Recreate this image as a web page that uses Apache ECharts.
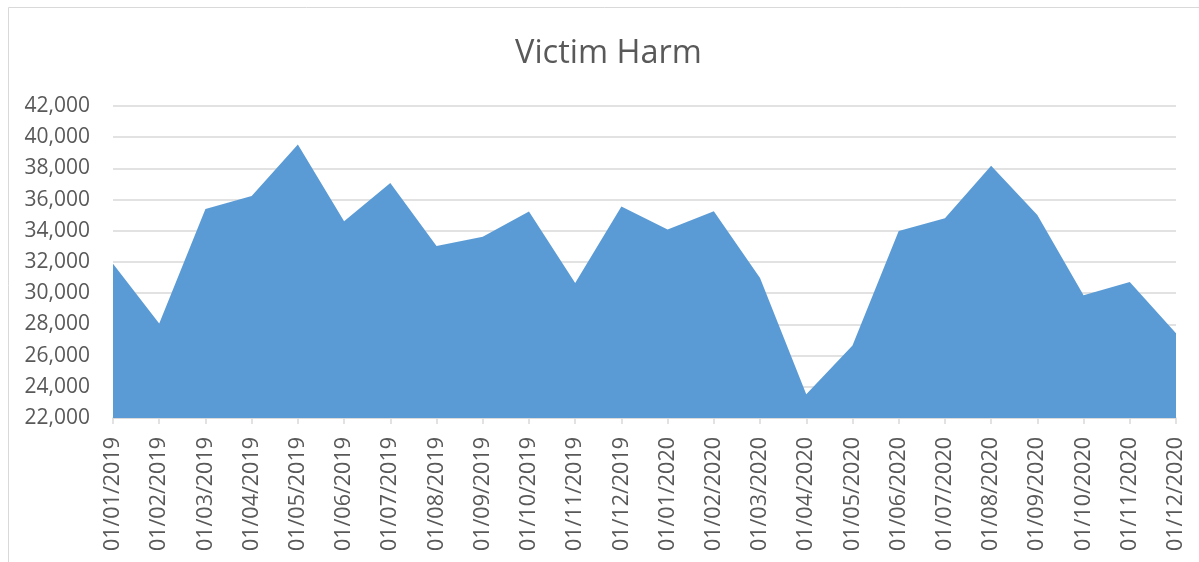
<!DOCTYPE html>
<html>
<head>
<meta charset="utf-8">
<script src="https://cdn.jsdelivr.net/npm/echarts@6/dist/echarts.min.js"></script>
<style>
  html, body { margin: 0; padding: 0; background: #fff; }
  #chart { width: 1199px; height: 562px; }
</style>
</head>
<body>
<div id="chart"></div>
<script>
// month labels as shown on the x axis
const months = [
  "01/01/2019", "01/02/2019", "01/03/2019", "01/04/2019", "01/05/2019", "01/06/2019",
  "01/07/2019", "01/08/2019", "01/09/2019", "01/10/2019", "01/11/2019", "01/12/2019",
  "01/01/2020", "01/02/2020", "01/03/2020", "01/04/2020", "01/05/2020", "01/06/2020",
  "01/07/2020", "01/08/2020", "01/09/2020", "01/10/2020", "01/11/2020", "01/12/2020"
];
// victim harm per month
const harm = [
  31890, 28060, 35400, 36230, 39530, 34620,
  37060, 33020, 33620, 35230, 30660, 35550,
  34090, 35260, 30980, 23520, 26640, 33980,
  34810, 38170, 35020, 29870, 30720, 27430
];
const yMin = 22000;
const yMax = 42000;
const yStep = 2000;

const chart = echarts.init(document.getElementById("chart"));
const textColor = "#595959";
const font = "'Open Sans', 'Liberation Sans', sans-serif";

const option = {
  animation: false,
  title: {
    text: "Victim Harm",
    left: 510,
    top: 32,
    textStyle: { color: textColor, fontSize: 32.5, fontWeight: "normal", fontFamily: font },
  },
  graphic: [
    {
      type: "rect",
      shape: { x: 8.5, y: 7.5, width: 1200, height: 570 },
      style: { fill: "none", stroke: "#d9d9d9", lineWidth: 1 },
      silent: true,
    },
  ],
  grid: { left: 113, right: 23, top: 106, bottom: 144 },
  xAxis: {
    type: "category",
    data: months,
    boundaryGap: false,
    axisLine: { lineStyle: { color: "#d9d9d9", width: 1.5 } },
    axisTick: { show: true, alignWithLabel: true, length: 6, lineStyle: { color: "#d9d9d9", width: 1.5 } },
    axisLabel: {
      rotate: 90,
      interval: 0,
      margin: 19,
      color: textColor,
      fontSize: 21.5,
      fontFamily: font,
    },
  },
  yAxis: {
    type: "value",
    min: yMin,
    max: yMax,
    interval: yStep,
    axisLine: { show: false },
    axisTick: { show: false },
    splitLine: { lineStyle: { color: "#d9d9d9", width: 1.5 } },
    axisLabel: {
      margin: 23,
      color: textColor,
      fontSize: 21,
      fontFamily: font,
      formatter: (v) => v.toLocaleString("en-US"),
    },
  },
  series: [
    {
      name: "Victim Harm",
      type: "line",
      data: harm,
      showSymbol: false,
      lineStyle: { width: 0 },
      areaStyle: { color: "#5b9bd5", opacity: 1, origin: "start" },
    },
  ],
};
chart.setOption(option);
</script>
</body>
</html>
